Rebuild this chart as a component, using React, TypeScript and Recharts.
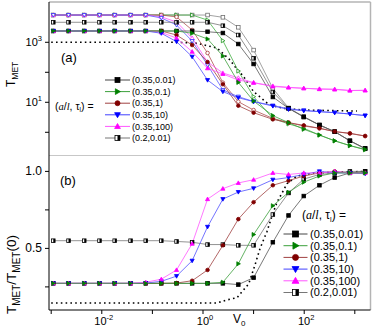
import React from 'react';
import { LineChart, Line, XAxis, YAxis, ReferenceLine } from 'recharts';

const FF = '"Liberation Sans", Arial, Helvetica, sans-serif';

// shared V0 grid
const X = [0.0011, 0.0022, 0.0045, 0.009, 0.018, 0.037, 0.074, 0.15, 0.3, 0.61, 1.23, 2.47, 4.99, 10, 24, 49, 98, 200, 400, 800, 1600];

// panel (a): T_MET
const tOpenGray = [8100, 8100, 8100, 8100, 8100, 8100, 8100, 8100, 8100, 8100, 8100, 6800, 3160, 550, 29, 6.5, 3.3, 1.75, 1.05, 0.52, 0.28];
const tHalf = [4650, 4650, 4650, 4650, 4650, 4650, 4650, 4650, 4650, 4650, 4650, 3570, 1750, 293, 22, 6.3, 3.2, 1.74, 1.05, 0.52, 0.29];
const tBlack = [2380, 2380, 2380, 2380, 2380, 2380, 2380, 2380, 2380, 2380, 2250, 2040, 877, 189, 15, 6.3, 3.3, 1.75, 1.05, 0.52, 0.29];
const tGreen = [2380, 2380, 2380, 2380, 2380, 2380, 2380, 2380, 2380, 2000, 1290, 350, 46, 11, 3.6, 2.1, 1.26, 0.81, 0.52, 0.36, 0.27];
const tGreenOpen = [8100, 8100, 8100, 8100, 8100, 8100, 8100, 8100, 8100, 8100, 5500, 1130, 110, 15.4, 2.9, 1.9, 1.36, 0.81, 0.52, 0.36, 0.26];
const tRed = [2380, 2380, 2380, 2380, 2380, 2380, 2380, 2380, 1750, 810, 220, 40, 7.7, 4.5, 2.7, 2.1, 1.7, 1.36, 1.06, 0.91, 0.75];
const tRedOpen = [8100, 8100, 8100, 8100, 8100, 8100, 8100, 8100, 7000, 2570, 440, 45, 10.5, 5.5, 2.9, 2.1, 1.62, 1.36, 1.05, 0.93, 0.75];
const tBlue = [2380, 2380, 2380, 2380, 2380, 2380, 2380, 2000, 1050, 330, 55, 22.6, 14.2, 10.5, 7.5, 5.8, 5.25, 4.86, 4.5, 4.07, 3.6];
const tBlueOpen = [8100, 8100, 8100, 8100, 8100, 8100, 8100, 6460, 3780, 1100, 175, 25.7, 15.4, 10.6, 7.8, 6.1, 5.4, 4.9, 4.5, 4.07, 3.6];
const tMag = [2380, 2380, 2380, 2380, 2380, 2380, 2380, 2140, 1380, 486, 136, 88, 55, 45, 33.6, 31, 29.3, 27.4, 26.7, 24.7, 25];
const tMagOpen = [8100, 8100, 8100, 8100, 8100, 8100, 8100, 7080, 4750, 1390, 220, 95, 65, 45, 35, 31.6, 29.3, 28, 27.4, 24.7, 25];

const dotTopX = [0.001, 0.3, 0.76, 1.89, 3.42, 4.29, 6.37, 10, 13.4, 18.4, 25, 39.4, 98, 1100];
const dotTopY = [1000, 1000, 930, 645, 257, 154, 71, 22.5, 15, 9.5, 7.5, 6.3, 5.5, 5.1];

// panel (b): T_MET / T_MET(0)
const bBlack = [0.273, 0.273, 0.273, 0.273, 0.273, 0.273, 0.273, 0.273, 0.273, 0.273, 0.273, 0.273, 0.265, 0.31, 0.54, 0.714, 0.84, 0.91, 0.96, 0.99, 1.0];
const bGreen = [0.273, 0.273, 0.273, 0.273, 0.273, 0.273, 0.273, 0.273, 0.273, 0.273, 0.273, 0.28, 0.40, 0.59, 0.777, 0.864, 0.93, 0.97, 0.99, 0.99, 0.99];
const bRed = [0.273, 0.273, 0.273, 0.273, 0.273, 0.273, 0.273, 0.273, 0.275, 0.29, 0.36, 0.52, 0.69, 0.80, 0.91, 0.94, 0.97, 0.99, 1.0, 0.99, 0.99];
const bBlue = [0.273, 0.273, 0.273, 0.273, 0.273, 0.273, 0.275, 0.286, 0.32, 0.42, 0.64, 0.82, 0.866, 0.89, 0.946, 0.96, 0.98, 1.0, 0.99, 0.99, 0.985];
const bMag = [0.273, 0.273, 0.273, 0.273, 0.273, 0.273, 0.28, 0.30, 0.36, 0.53, 0.82, 0.888, 0.925, 0.946, 0.99, 0.98, 0.99, 0.99, 1.0, 0.99, 0.99];
const bHalf = [0.55, 0.55, 0.55, 0.55, 0.55, 0.55, 0.55, 0.55, 0.545, 0.54, 0.525, 0.525, 0.52, 0.52, 0.72, 0.86, 0.95, 0.98, 0.99, 1.0, 1.0];

const dotBotX = [0.001, 1.87, 2.94, 4.7, 8, 10.6, 13.4, 18.4, 23.1, 29, 36.5, 45.6, 72, 155, 1600];
const dotBotY = [0.145, 0.145, 0.165, 0.18, 0.27, 0.39, 0.5, 0.61, 0.71, 0.8, 0.86, 0.92, 0.97, 0.99, 1.0];

const legendLabels = ['(0.35,0.01)', '(0.35,0.1)', '(0.35,1)', '(0.35,10)', '(0.35,100)', '(0.2,0.01)'];

const X_DOMAIN: [number, number] = [0.000905, 2042];
const TOP_DOMAIN: [number, number] = [0.162, 22030];
const BOT_DOMAIN: [number, number] = [0.1, 1.1];

type Shape = 'square' | 'circle' | 'triUp' | 'triDown' | 'triRight' | 'half';

function Marker({ shape, cx, cy, s, color, filled }: { shape: Shape; cx: number; cy: number; s: number; color: string; filled: boolean }) {
  const h = s / 2;
  const fill = filled ? color : '#fff';
  const sw = 0.8;
  switch (shape) {
    case 'square':
      return <rect x={cx - h} y={cy - h} width={s} height={s} fill={fill} stroke={color} strokeWidth={sw} />;
    case 'circle':
      return <circle cx={cx} cy={cy} r={h} fill={fill} stroke={color} strokeWidth={sw} />;
    case 'triUp':
      return <polygon points={`${cx},${cy - h * 1.15} ${cx + h * 1.15},${cy + h * 0.85} ${cx - h * 1.15},${cy + h * 0.85}`} fill={fill} stroke={color} strokeWidth={sw} />;
    case 'triDown':
      return <polygon points={`${cx},${cy + h * 1.15} ${cx + h * 1.15},${cy - h * 0.85} ${cx - h * 1.15},${cy - h * 0.85}`} fill={fill} stroke={color} strokeWidth={sw} />;
    case 'triRight':
      return <polygon points={`${cx + h * 1.15},${cy} ${cx - h * 0.85},${cy - h * 1.15} ${cx - h * 0.85},${cy + h * 1.15}`} fill={fill} stroke={color} strokeWidth={sw} />;
    case 'half':
      return (
        <g>
          <rect x={cx - h} y={cy - h} width={s} height={s} fill="#fff" stroke={color} strokeWidth={sw} />
          <rect x={cx} y={cy - h} width={h} height={s} fill={color} />
        </g>
      );
  }
  return null;
}

const dotFn = (shape: Shape, color: string, filled: boolean, s: number) => (p: any) => {
  const k = `m-${p.index}`;
  if (p.cx == null || p.cy == null || isNaN(p.cx) || isNaN(p.cy)) return <g key={k} />;
  return (
    <g key={k}>
      <Marker shape={shape} cx={p.cx} cy={p.cy} s={s} color={color} filled={filled} />
    </g>
  );
};

const toData = (xs: number[], ys: number[]) => xs.map((x, i) => ({ x, y: ys[i] }));

type SeriesDef = { name: string; ys: number[]; line: string; marker: string; shape: Shape; filled: boolean };

const topSeries: SeriesDef[] = [
  { name: 'openGray', ys: tOpenGray, line: '#8a8a8a', marker: '#707070', shape: 'square', filled: false },
  { name: 'greenOpen', ys: tGreenOpen, line: '#45b045', marker: '#1d961d', shape: 'triRight', filled: false },
  { name: 'redOpen', ys: tRedOpen, line: '#b05050', marker: '#a83a3a', shape: 'circle', filled: false },
  { name: 'magOpen', ys: tMagOpen, line: '#ff55ff', marker: '#ff30ff', shape: 'triUp', filled: false },
  { name: 'blueOpen', ys: tBlueOpen, line: '#5a5aff', marker: '#3030ff', shape: 'triDown', filled: false },
  { name: 'half', ys: tHalf, line: '#777777', marker: '#000000', shape: 'half', filled: true },
  { name: 'black', ys: tBlack, line: '#555555', marker: '#000000', shape: 'square', filled: true },
  { name: 'red', ys: tRed, line: '#a04040', marker: '#800000', shape: 'circle', filled: true },
  { name: 'mag', ys: tMag, line: '#ff55ff', marker: '#ff00ff', shape: 'triUp', filled: true },
  { name: 'blue', ys: tBlue, line: '#5050ff', marker: '#0000ff', shape: 'triDown', filled: true },
  { name: 'green', ys: tGreen, line: '#3ca03c', marker: '#008000', shape: 'triRight', filled: true },
];

const botSeries: SeriesDef[] = [
  { name: 'half', ys: bHalf, line: '#777777', marker: '#000000', shape: 'half', filled: true },
  { name: 'black', ys: bBlack, line: '#555555', marker: '#000000', shape: 'square', filled: true },
  { name: 'red', ys: bRed, line: '#a04040', marker: '#800000', shape: 'circle', filled: true },
  { name: 'blue', ys: bBlue, line: '#5050ff', marker: '#0000ff', shape: 'triDown', filled: true },
  { name: 'mag', ys: bMag, line: '#ff55ff', marker: '#ff00ff', shape: 'triUp', filled: true },
  { name: 'green', ys: bGreen, line: '#3ca03c', marker: '#008000', shape: 'triRight', filled: true },
];

const legendDefs: { line: string; marker: string; shape: Shape }[] = [
  { line: '#444444', marker: '#000000', shape: 'square' },
  { line: '#3ca03c', marker: '#008000', shape: 'triRight' },
  { line: '#a04040', marker: '#800000', shape: 'circle' },
  { line: '#4040ff', marker: '#0000ff', shape: 'triDown' },
  { line: '#ff55ff', marker: '#ff00ff', shape: 'triUp' },
  { line: '#777777', marker: '#000000', shape: 'half' },
];

const PowYTick = (p: any) => {
  const v = p.payload.value;
  const e = Math.round(Math.log10(v));
  if (e !== 1 && e !== 3) return <g />;
  return (
    <text x={p.x} y={p.y} textAnchor="end" fontSize={11} fill="#000" fontFamily={FF}>
      <tspan dy={4}>10</tspan>
      <tspan dy={-5} fontSize={7.5}>{e}</tspan>
    </text>
  );
};

const LinYTick = (p: any) => {
  const v = p.payload.value;
  if (Math.abs(v - 0.5) > 1e-6 && Math.abs(v - 1) > 1e-6) return <g />;
  return (
    <text x={p.x} y={p.y} dy={4} textAnchor="end" fontSize={12} fill="#000" fontFamily={FF}>
      {v.toFixed(1)}
    </text>
  );
};

const PowXTick = (p: any) => {
  const v = p.payload.value;
  const e = Math.round(Math.log10(v));
  if (e !== -2 && e !== 0 && e !== 2) return <g />;
  return (
    <text x={p.x + 2} y={p.y} textAnchor="middle" fontSize={11} fill="#000" fontFamily={FF}>
      <tspan dy={9}>10</tspan>
      <tspan dy={-5} fontSize={7.5}>{e}</tspan>
    </text>
  );
};

function Legend({ x0, y0, dy, lineLen, ms, fs, textX }: { x0: number; y0: number; dy: number; lineLen: number; ms: number; fs: number; textX: number }) {
  return (
    <g>
      {legendDefs.map((d, i) => {
        const y = y0 + i * dy;
        return (
          <g key={i}>
            <line x1={x0} y1={y} x2={x0 + lineLen} y2={y} stroke={d.line} strokeWidth={1} />
            <Marker shape={d.shape} cx={x0 + lineLen / 2} cy={y} s={ms} color={d.marker} filled />
            <text x={textX} y={y + fs * 0.36} fontSize={fs} fontFamily={FF} fill="#000">{legendLabels[i]}</text>
          </g>
        );
      })}
    </g>
  );
}

function ParamLabel({ x, y, fs }: { x: number; y: number; fs: number }) {
  return (
    <text x={x} y={y} fontSize={fs} fontFamily={FF} fill="#000">
      (<tspan fontStyle="italic" fontFamily='"Liberation Serif", serif'>a</tspan>/<tspan fontStyle="italic" fontFamily='"Liberation Serif", serif'>l</tspan>, τ<tspan fontSize={fs * 0.6} dy={fs * 0.25}>l</tspan>
      <tspan dy={-fs * 0.25}>) =</tspan>
    </text>
  );
}

export default function App() {
  return (
    <div style={{ position: 'fixed', left: 0, top: 0, width: 374, height: 332, background: '#fff' }}>
      <div style={{ position: 'absolute', left: 0, top: 0 }}>
        <LineChart width={374} height={156} margin={{ top: 2, right: 3.5, bottom: 0, left: 0 }}>
          <XAxis dataKey="x" type="number" scale="log" domain={X_DOMAIN} allowDataOverflow hide />
          <YAxis
            type="number"
            scale="log"
            domain={TOP_DOMAIN}
            allowDataOverflow
            width={49}
            ticks={[1, 10, 100, 1000]}
            tick={<PowYTick />}
            tickSize={4}
            tickMargin={3}
            axisLine={{ stroke: '#000', strokeWidth: 1 }}
            tickLine={{ stroke: '#000', strokeWidth: 1 }}
            interval={0}
          />
          <ReferenceLine y={TOP_DOMAIN[1]} stroke="#b4b4b4" strokeWidth={1.5} ifOverflow="visible" />
          <ReferenceLine y={TOP_DOMAIN[0]} stroke="#b4b4b4" strokeWidth={1.5} ifOverflow="visible" />
          <ReferenceLine x={X_DOMAIN[1]} stroke="#b4b4b4" strokeWidth={1.5} ifOverflow="visible" />
          <Line
            data={toData(dotTopX, dotTopY)}
            dataKey="y"
            stroke="#000"
            strokeWidth={1.6}
            strokeDasharray="1.6 3.2"
            dot={false}
            isAnimationActive={false}
          />
          {topSeries.map((s) => (
            <Line
              key={s.name}
              data={toData(X, s.ys)}
              dataKey="y"
              stroke={s.line}
              strokeWidth={0.8}
              dot={dotFn(s.shape, s.marker, s.filled, 3.6)}
              isAnimationActive={false}
            />
          ))}
        </LineChart>
      </div>
      <div style={{ position: 'absolute', left: 0, top: 156 }}>
        <LineChart width={374} height={176} margin={{ top: 0, right: 3.5, bottom: 0, left: 0 }}>
          <XAxis
            dataKey="x"
            type="number"
            scale="log"
            domain={X_DOMAIN}
            allowDataOverflow
            height={22}
            ticks={[0.001, 0.01, 0.1, 1, 10, 100, 1000]}
            tick={<PowXTick />}
            tickSize={4}
            tickMargin={2}
            interval={0}
            axisLine={{ stroke: '#000', strokeWidth: 1 }}
            tickLine={{ stroke: '#000', strokeWidth: 1 }}
          />
          <YAxis
            type="number"
            domain={BOT_DOMAIN}
            allowDataOverflow
            width={49}
            ticks={[0.25, 0.5, 0.75, 1.0]}
            tick={<LinYTick />}
            tickSize={4}
            tickMargin={3}
            interval={0}
            axisLine={{ stroke: '#000', strokeWidth: 1 }}
            tickLine={{ stroke: '#000', strokeWidth: 1 }}
          />
          <ReferenceLine x={X_DOMAIN[1]} stroke="#b4b4b4" strokeWidth={1.5} ifOverflow="visible" />
          <Line
            data={toData(dotBotX, dotBotY)}
            dataKey="y"
            stroke="#000"
            strokeWidth={1.6}
            strokeDasharray="1.6 3.2"
            dot={false}
            isAnimationActive={false}
          />
          {botSeries.map((s) => (
            <Line
              key={s.name}
              data={toData(X, s.ys)}
              dataKey="y"
              stroke={s.line}
              strokeWidth={0.8}
              dot={dotFn(s.shape, s.marker, s.filled, 3.6)}
              isAnimationActive={false}
            />
          ))}
        </LineChart>
      </div>
      <svg width={374} height={332} style={{ position: 'absolute', left: 0, top: 0, pointerEvents: 'none' }}>
        {/* panel labels */}
        <text x={61} y={62} fontSize={13} fontFamily={FF} fill="#000">(a)</text>
        <text x={60} y={185} fontSize={13} fontFamily={FF} fill="#000">(b)</text>
        {/* y axis titles */}
        <text transform="rotate(-90)" x={-87} y={15} fontSize={12} fontFamily={FF} fill="#000">
          T<tspan fontSize={8.5} dy={3}>MET</tspan>
        </text>
        <text transform="rotate(-90)" x={-314} y={16} fontSize={13.5} fontFamily={FF} fill="#000">
          T<tspan fontSize={10} dy={3.5}>MET</tspan>
          <tspan dy={-3.5}>/T</tspan>
          <tspan fontSize={10} dy={3.5}>MET</tspan>
          <tspan dy={-3.5}>(0)</tspan>
        </text>
        {/* x axis title */}
        <text x={233} y={323} fontSize={12} fontFamily={FF} fill="#000">
          V<tspan fontSize={8} dy={3}>0</tspan>
        </text>
        {/* legends */}
        <ParamLabel x={55} y={109.5} fs={10.5} />
        <Legend x0={105} y0={80} dy={11.6} lineLen={25} ms={5} fs={9} textX={132} />
        <ParamLabel x={302} y={219} fs={12} />
        <Legend x0={283.5} y0={234} dy={11.7} lineLen={24} ms={6} fs={11} textX={310} />
      </svg>
    </div>
  );
}
